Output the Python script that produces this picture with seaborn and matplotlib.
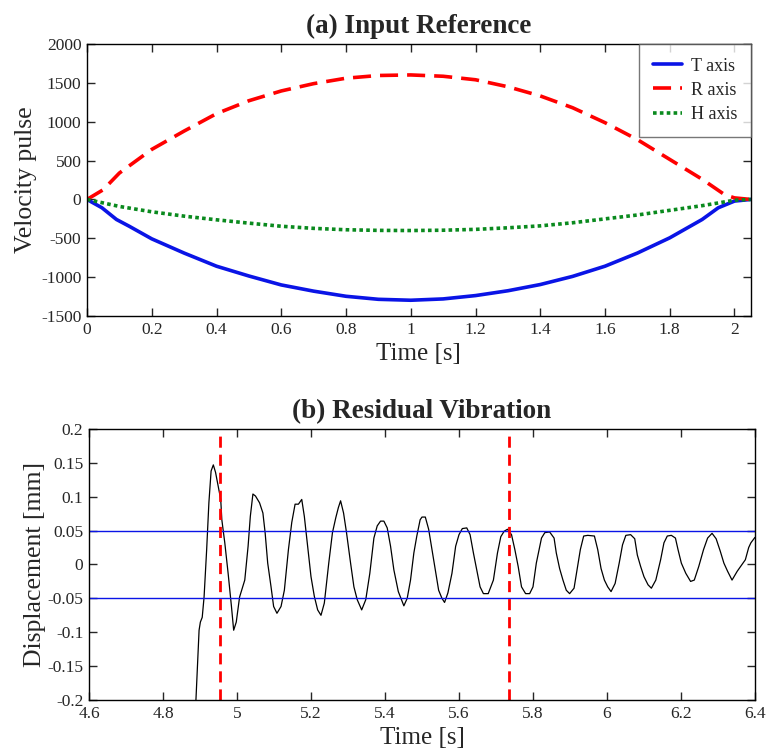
import numpy as np
import pandas as pd
import matplotlib
matplotlib.use("Agg")
import matplotlib.pyplot as plt
import seaborn as sns
from matplotlib.ticker import FuncFormatter

# ---------------- data: (a) Input Reference ----------------
t_T = [0.0, 0.046, 0.091, 0.13, 0.2, 0.3, 0.4, 0.5, 0.6, 0.7, 0.8, 0.9, 1.0,
       1.1, 1.2, 1.3, 1.4, 1.5, 1.6, 1.7, 1.8, 1.9, 1.95, 2.0, 2.05]
v_T = [0, -107, -258, -344, -507, -690, -859, -985, -1100, -1180, -1246, -1285, -1297,
       -1280, -1237, -1175, -1095, -990, -859, -690, -494, -258, -107, -21, 0]

t_R = [0.0, 0.05, 0.1, 0.2, 0.3, 0.4, 0.5, 0.6, 0.7, 0.8, 0.9, 1.0, 1.1, 1.2,
       1.3, 1.4, 1.5, 1.6, 1.7, 1.8, 1.9, 1.97, 2.0, 2.05]
v_R = [0, 125, 340, 644, 880, 1104, 1270, 1396, 1490, 1560, 1595, 1602, 1585, 1540,
       1450, 1332, 1180, 988, 770, 515, 260, 60, 20, 0]

t_H = [0.0, 0.1, 0.2, 0.3, 0.4, 0.5, 0.6, 0.7, 0.8, 0.9, 1.0, 1.1, 1.2, 1.3, 1.4,
       1.5, 1.6, 1.7, 1.8, 1.9, 2.0, 2.05]
v_H = [0, -90, -159, -215, -262, -305, -345, -372, -390, -398, -400, -396, -385,
       -365, -340, -300, -250, -200, -140, -80, -10, 0]

# ---------------- data: (b) Residual Vibration ----------------
t_vib = [4.889, 4.893, 4.8975, 4.901, 4.906, 4.911, 4.918, 4.924, 4.930, 4.936,
         4.942, 4.949, 4.953, 4.956, 4.959, 4.967, 4.976, 4.985, 4.991, 4.998,
         5.007, 5.021, 5.030, 5.036, 5.043, 5.050, 5.061, 5.070, 5.076, 5.083,
         5.092, 5.099, 5.108, 5.119, 5.128, 5.139, 5.148, 5.157, 5.166, 5.175,
         5.182, 5.191, 5.200, 5.209, 5.218, 5.227, 5.236, 5.248, 5.258, 5.267,
         5.274, 5.280, 5.288, 5.296, 5.307, 5.316, 5.325, 5.337, 5.348, 5.359,
         5.370, 5.379, 5.388, 5.397, 5.406, 5.415, 5.424, 5.436, 5.451, 5.460,
         5.469, 5.478, 5.486, 5.495, 5.500, 5.509, 5.518, 5.527, 5.536, 5.545,
         5.554, 5.561, 5.570, 5.581, 5.591, 5.600, 5.609, 5.621, 5.630, 5.639,
         5.648, 5.657, 5.666, 5.679, 5.693, 5.704, 5.713, 5.722, 5.731, 5.742,
         5.751, 5.760, 5.769, 5.780, 5.791, 5.800, 5.809, 5.823, 5.832, 5.845,
         5.857, 5.863, 5.872, 5.881, 5.890, 5.899, 5.911, 5.919, 5.928, 5.937,
         5.948, 5.966, 5.975, 5.984, 5.993, 6.002, 6.011, 6.022, 6.033, 6.042,
         6.051, 6.064, 6.075, 6.082, 6.091, 6.100, 6.111, 6.120, 6.132, 6.145,
         6.154, 6.163, 6.174, 6.185, 6.192, 6.201, 6.213, 6.226, 6.236, 6.248,
         6.261, 6.272, 6.284, 6.295, 6.306, 6.316, 6.326, 6.338, 6.352, 6.365,
         6.374, 6.383, 6.389, 6.400]
v_vib = [-0.200, -0.152, -0.097, -0.085, -0.078, -0.048, 0.022, 0.091, 0.138, 0.147,
         0.136, 0.116, 0.104, 0.096, 0.066, 0.032, -0.013, -0.062, -0.097, -0.085,
         -0.048, -0.023, 0.027, 0.071, 0.104, 0.101, 0.091, 0.076, 0.047, 0.002,
         -0.033, -0.062, -0.072, -0.062, -0.038, 0.022, 0.062, 0.089, 0.089, 0.096,
         0.071, 0.027, -0.018, -0.047, -0.067, -0.075, -0.057, 0.002, 0.047, 0.069,
         0.084, 0.094, 0.076, 0.047, 0.002, -0.033, -0.052, -0.067, -0.052, -0.013,
         0.039, 0.057, 0.064, 0.064, 0.054, 0.027, -0.008, -0.040, -0.061, -0.050,
         -0.023, 0.017, 0.042, 0.066, 0.070, 0.070, 0.052, 0.022, -0.008, -0.038,
         -0.050, -0.056, -0.042, -0.013, 0.027, 0.044, 0.053, 0.054, 0.044, 0.017,
         -0.008, -0.033, -0.043, -0.043, -0.023, 0.017, 0.041, 0.049, 0.052, 0.044,
         0.022, -0.003, -0.033, -0.043, -0.043, -0.033, 0.002, 0.039, 0.047, 0.048,
         0.039, 0.017, -0.006, -0.023, -0.038, -0.043, -0.035, -0.008, 0.022, 0.042,
         0.043, 0.042, 0.022, -0.006, -0.023, -0.033, -0.040, -0.028, 0.002, 0.029,
         0.043, 0.044, 0.038, 0.014, -0.003, -0.018, -0.030, -0.035, -0.023, 0.007,
         0.032, 0.042, 0.043, 0.039, 0.022, 0.002, -0.013, -0.025, -0.023, -0.003,
         0.022, 0.039, 0.046, 0.038, 0.020, 0.002, -0.010, -0.023, -0.010, 0.000,
         0.007, 0.025, 0.032, 0.040]
band_levels = [0.05, -0.05]
marker_times = [4.955, 5.735]

# ---------------- style ----------------
sns.set_style("ticks")
plt.rcParams['font.family'] = ['Liberation Serif', 'DejaVu Serif']

fig = plt.figure(figsize=(7.66, 7.51), dpi=100)
ax1 = fig.add_axes([0.1136, 0.5792, 0.8664, 0.3622])
ax2 = fig.add_axes([0.1162, 0.0679, 0.8694, 0.3609])


def _fmt(v, p):
    if abs(v) < 1e-9:
        return '0'
    return '%g' % round(v, 4)


fmt = FuncFormatter(_fmt)

# ---- (a) ----
dfa = pd.concat([
    pd.DataFrame({'t': t_T, 'v': v_T, 'axis': 'T axis'}),
    pd.DataFrame({'t': t_R, 'v': v_R, 'axis': 'R axis'}),
    pd.DataFrame({'t': t_H, 'v': v_H, 'axis': 'H axis'}),
])
palette = {'T axis': '#0a14e6', 'R axis': '#ff0000', 'H axis': '#0a8a1e'}
for name, ls in [('T axis', '-'), ('R axis', (0, (5, 2.5))), ('H axis', (0, (1, 0.9)))]:
    sub = dfa[dfa['axis'] == name]
    sns.lineplot(data=sub, x='t', y='v', ax=ax1, color=palette[name],
                 linestyle=ls, linewidth=2.6, label=name, sort=False)
ax1.set_xlim(0, 2.05)
ax1.set_ylim(-1500, 2000)
ax1.set_xticks(np.arange(0, 2.01, 0.2))
ax1.set_yticks(np.arange(-1500, 2001, 500))
ax1.xaxis.set_major_formatter(fmt)
ax1.yaxis.set_major_formatter(fmt)
ax1.set_xlabel('Time [s]', fontsize=18, labelpad=4)
ax1.set_ylabel('Velocity pulse', fontsize=18.5, labelpad=3)
ax1.set_title('(a) Input Reference', fontsize=19.5, fontweight='bold', pad=8)
leg = ax1.legend(loc='upper right', fontsize=13, frameon=True, fancybox=False,
                 borderaxespad=0.0, handlelength=1.6, handletextpad=0.5,
                 borderpad=0.75, labelspacing=0.4)
leg.get_frame().set_edgecolor('#555555')
leg.get_frame().set_linewidth(1.0)

# ---- (b) ----
dfb = pd.DataFrame({'t': t_vib, 'v': v_vib})
sns.lineplot(data=dfb, x='t', y='v', ax=ax2, color='black', linewidth=0.9, sort=False)
for lv in band_levels:
    ax2.axhline(lv, color='#0a14e6', linewidth=1.0)
for mt in marker_times:
    ax2.axvline(mt, color='#ff0000', linewidth=2.0, linestyle=(0, (4, 2.5)))
ax2.set_xlim(4.6, 6.4)
ax2.set_ylim(-0.2, 0.2)
ax2.set_xticks(np.arange(4.6, 6.41, 0.2))
ax2.set_yticks(np.arange(-0.2, 0.201, 0.05))
ax2.xaxis.set_major_formatter(fmt)
ax2.yaxis.set_major_formatter(fmt)
ax2.set_xlabel('Time [s]', fontsize=18, labelpad=4)
ax2.set_ylabel('Displacement [mm]', fontsize=18.5, labelpad=1)
ax2.set_title('(b) Residual Vibration', fontsize=19.5, fontweight='bold', pad=8)

for ax in (ax1, ax2):
    ax.tick_params(direction='in', top=True, right=True, labelsize=12.5,
                   length=6, width=1.0, pad=4)
    for s in ax.spines.values():
        s.set_linewidth(1.0)
        s.set_color('black')

fig.savefig('out.png', dpi=100)
